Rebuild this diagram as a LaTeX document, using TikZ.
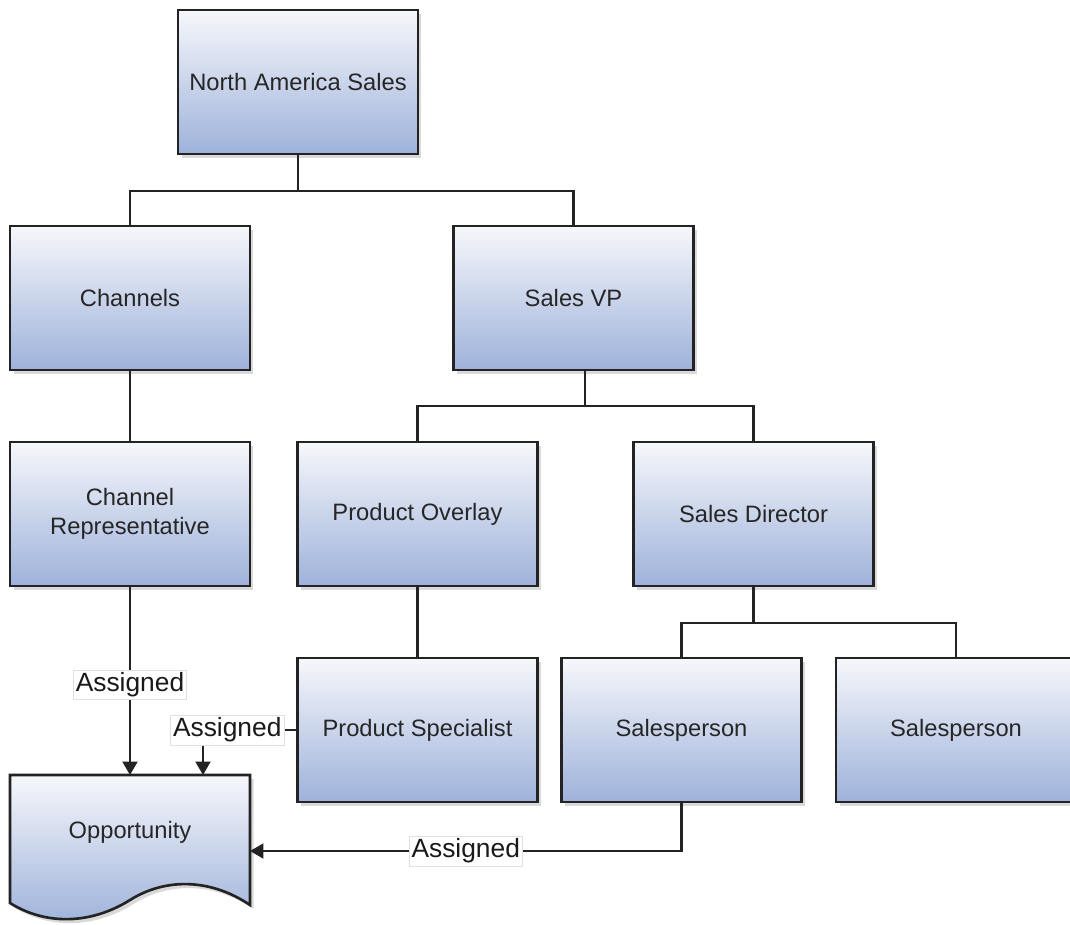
\documentclass[tikz,border=0pt]{standalone}
\usepackage{fontspec}
\setmainfont{Liberation Sans}
\usepackage{tikz}
\usepackage{xcolor}
\usetikzlibrary{shapes, positioning, shadows, arrows.meta}

\definecolor{boxtop}{RGB}{246,247,251}
\definecolor{boxbot}{RGB}{158,178,218}
\definecolor{boxline}{RGB}{35,35,35}

\tikzset{
    unit/.style={rectangle, draw=boxline, line width=1.5pt, top color=boxtop, bottom color=boxbot,
        minimum width=4.8cm, minimum height=2.88cm, align=center, text=black!85,
        font=\fontsize{13.5}{16.5}\selectfont,
        drop shadow={shadow xshift=.07cm, shadow yshift=-.08cm, opacity=.3, fill=black!50}},
    link/.style={draw=boxline, line width=1.2pt},
    tip/.style={-{Triangle[width=.3cm, length=.27cm]}},
    assign/.style={fill=white, draw=black!12, line width=.4pt, inner sep=1.5pt, text=black!90,
        font=\fontsize{15}{17}\selectfont}
}

\begin{document}
\begin{tikzpicture}[x=.02cm, y=-.02cm]
        \useasboundingbox (0,0) rectangle (1070,924);

        \node[unit] (nas) at (298, 82) {North America Sales};
        \node[unit] (chan) at (130, 298) {Channels};
        \node[unit] (vp) at (573.5, 298) {Sales VP};
        \node[unit] (chrep) at (130, 514) {Channel\\Representative};
        \node[unit] (povl) at (417.5, 514) {Product Overlay};
        \node[unit] (sdir) at (753.5, 514) {Sales Director};
        \node[unit] (pspec) at (417.5, 730) {Product Specialist};
        \node[unit] (sp1) at (681.5, 730) {Salesperson};
        \node[unit] (sp2) at (956, 730) {Salesperson};

        % document shape
        \draw[draw=boxline, line width=1.5pt, top color=boxtop, bottom color=boxbot,
            drop shadow={shadow xshift=.07cm, shadow yshift=-.08cm, opacity=.3, fill=black!50}]
            (10,775) -- (250,775) -- (250,905)
            .. controls (210,878) and (165,878) .. (130,900)
            .. controls (90,925) and (45,925) .. (10,903) -- cycle;
        \node[rectangle, minimum width=4.8cm, minimum height=2.28cm, outer sep=0pt, text=black!85,
            font=\fontsize{13.5}{16.5}\selectfont] (opp) at (130, 832) {Opportunity};
        \coordinate (psin) at (203, 775);

        \draw[link] (nas.south) -- ++(0,36) coordinate (j1)
            (j1) -| (chan.north)
            (j1) -| (vp.north);
        \draw[link] ([xshift=.23cm]vp.south) -- ++(0,35) coordinate (j2)
            (j2) -| (povl.north)
            (j2) -| (sdir.north);
        \draw[link] (sdir.south) -- ++(0,36) coordinate (j3)
            (j3) -| (sp1.north)
            (j3) -| (sp2.north);
        \draw[link] (chan) -- (chrep)
            (povl) -- (pspec);

        \draw[link, tip] (chrep.south) -- node[assign, pos=.52] {Assigned} (opp.north);
        \draw[link, tip] (pspec.west) -| node[assign, pos=.37] {Assigned} (psin);
        \draw[link, tip] (sp1.south) |- node[assign, pos=.75] {Assigned} ([yshift=-.38cm]opp.east);
    \end{tikzpicture}
\end{document}
